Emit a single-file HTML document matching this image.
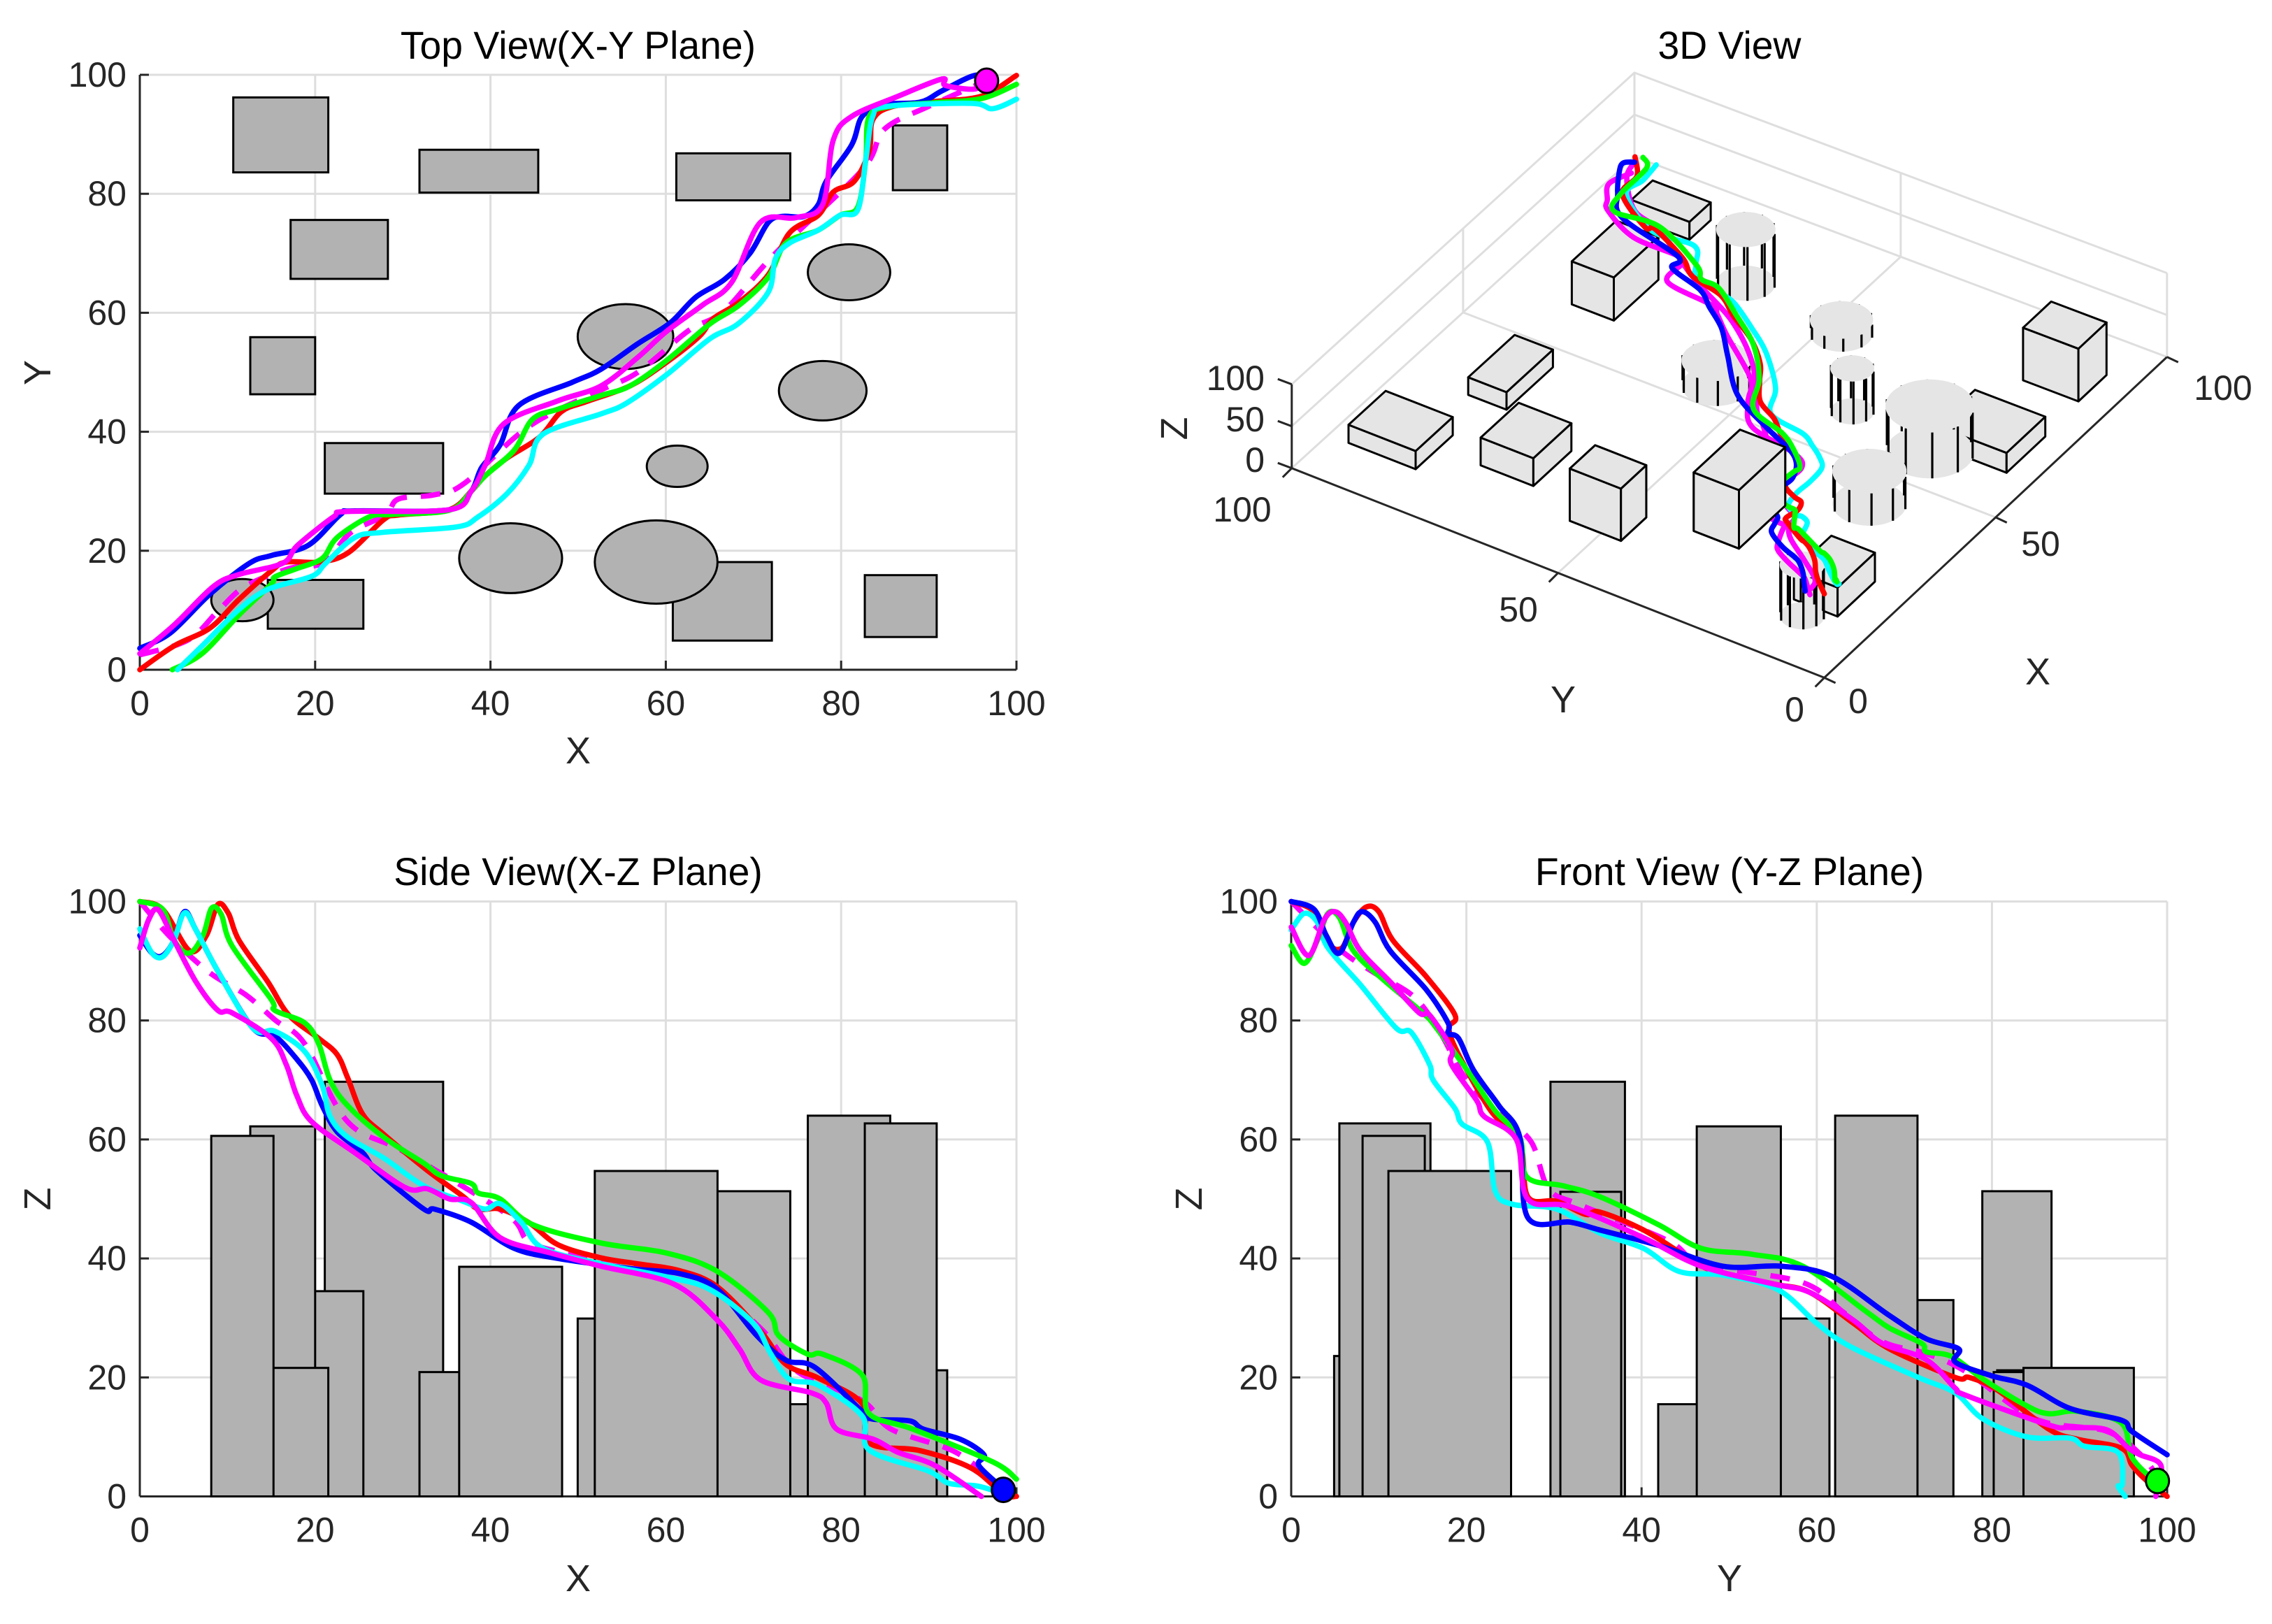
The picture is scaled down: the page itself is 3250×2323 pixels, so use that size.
<!DOCTYPE html>
<html lang="en">
<head>
<meta charset="utf-8">
<title>Trajectory planning views</title>
<style>
html,body{margin:0;padding:0;background:#fff;}
svg{display:block;}
text{font-family:"Liberation Sans",Arial,sans-serif;}
.title{font-size:55.3px;fill:#000;text-anchor:middle;}
.axis-label{font-size:54px;fill:#262626;text-anchor:middle;}
.tick{font-size:50px;fill:#262626;}
</style>
</head>
<body>
<svg id="figure" xmlns="http://www.w3.org/2000/svg" width="3250" height="2323" viewBox="0 0 3250 2323">
  <rect x="0" y="0" width="3250" height="2323" fill="#ffffff"/>
  <g id="top-panel"></g>
  <g id="iso-panel"></g>
  <g id="side-panel"></g>
  <g id="front-panel"></g>
  <text class="title" x="827" y="84">Top View(X-Y Plane)</text>
  <text class="axis-label" x="827" y="1092">X</text>
  <text class="axis-label" transform="translate(72,533) rotate(-90)">Y</text>
  <text class="title" x="2474" y="84">3D View</text>
  <text class="axis-label" x="2915" y="979">X</text>
  <text class="axis-label" x="2236" y="1019">Y</text>
  <text class="axis-label" transform="translate(1698,613) rotate(-90)">Z</text>
  <text class="title" x="827" y="1266">Side View(X-Z Plane)</text>
  <text class="axis-label" x="827" y="2276">X</text>
  <text class="axis-label" transform="translate(72,1715) rotate(-90)">Z</text>
  <text class="title" x="2474" y="1266">Front View (Y-Z Plane)</text>
  <text class="axis-label" x="2474" y="2276">Y</text>
  <text class="axis-label" transform="translate(1719,1715) rotate(-90)">Z</text>
</svg>
<script>
// ---------- tick labels ----------
const planeTicks = [0, 20, 40, 60, 80, 100];
const isoTicks = [0, 50, 100];

// ---------- obstacles (data units) ----------
const boxIds  = ['R1','R2','R3','R4','R5','R6','R7','R8','R9','R10'];
const boxXMin = [10.66,31.9,61.2,85.9,17.2,12.6,21.1,14.6,60.8,82.7];
const boxXMax = [21.5,45.45,74.2,92.1,28.3,20,34.6,25.5,72.1,90.9];
const boxYMin = [83.6,80.2,78.9,80.6,65.7,46.3,29.6,6.9,4.9,5.5];
const boxYMax = [96.2,87.4,86.8,91.5,75.6,55.9,38.1,15.1,18.1,15.9];
const boxHeight = [21.6,20.9,51.3,21.2,33,62.2,69.7,34.5,23.6,62.7];
const cylIds = ['C1','C2','C3','C4','C5','C6','C7'];
const cylX = [11.7,42.3,58.9,55.4,61.3,77.9,80.9];
const cylY = [11.7,18.75,18.1,56,34.2,46.9,66.8];
const cylR = [3.55,5.87,7,5.45,3.47,5,4.7];
const cylHeight = [60.6,38.6,54.7,29.9,51.2,15.5,64];
const sideOrder  = ['R5','R7','R8','R6','R1','C1','R2','C2','C4','R9','C5','C6','R3','C3','R4','C7','R10'];
const frontOrder = ['R9','R8','R10','C1','C2','C3','R7','C5','C6','C4','R6','R5','C7','R3','R4','R2','R1'];
const occludingBoxes = ['R6','R7'];
const facetAngles = [0,36,72,108,144,180,216,252,288,324];

// ---------- top view series ----------
const topRedX = [0,3.9,8,11.3,15,16.7,20.4,23.7,27.8,29.5,35.3,37.8,39.4,41.9,45.6,48.1,51,55.9,60.1,63.8,65.4,68.3,71.7,74.1,77.4,79.1,81.5,83.2,83.6,85.7,90.6,96,100];
const topRedY = [0,4,7,11.8,16.6,18.1,18.1,19.6,25.2,26,26.9,30,32.6,35.6,39.1,43.4,45.1,47.7,51.7,56,59,61.7,66.4,73.4,76.4,80.3,82.1,87.2,92.4,94.6,95.5,96.4,99.9];
const topBlueX = [0,3.5,8,12.5,15,19.2,22.9,24.5,35.3,37.8,39,41.1,43.2,49.3,52.6,56.8,60.5,63.4,66.7,69.6,71.7,73.3,75.8,77.4,78.3,81.2,82.4,84.9,89,91.5,95.2,96.6];
const topBlueY = [3.6,6.2,12.7,17.9,19.2,20.9,26.1,26.7,26.9,30,34,37.8,44.4,48.3,50.5,54.8,58.3,62.6,65.6,70,75.2,76.2,76.2,78.2,82.1,88.2,93,95,95.4,97.3,99.9,99];
const topGreenX = [3.7,7.1,11.3,15,15.4,17.9,20.8,22.5,26.2,28.7,35.3,37.8,39.4,42.7,44.8,47.7,52.6,55.9,60.1,65,68.3,71.7,73.7,77.4,79.9,81.9,82.8,83.2,85.7,90.6,96,100];
const topGreenY = [0,2.7,9.2,14.4,15.6,17,18.7,22.2,25.7,26.1,26.8,30,32.6,36.9,42.1,43.8,46.1,47.7,52,58.1,61.2,66,71.7,73.9,76.4,77.8,85.6,93,94.7,95.3,96,98.4];
const topCyanX = [4.3,7.1,11.3,14.6,19.6,21.2,24.5,27.8,36.1,38.6,41.9,44.4,46,52.6,55.5,60.1,65,68.3,71.7,72.5,74.1,77.4,79.9,81.9,82.8,83.6,85.3,94.8,97.3,100];
const topCyanY = [0,4,10.1,13.5,15.7,17.9,22.2,23.1,24,25.7,29.6,34.4,39.6,43,44.8,49.6,55.6,58.2,63.5,69.1,71.7,73.9,76.4,77.3,85.6,93,94.7,95.2,94.3,95.9];
const topMagentaX = [0,3.9,8.4,11.3,16.3,18,22.1,23.7,35.3,37.8,39.4,41.5,47.7,52.6,56.8,60.1,64.2,67.5,70.8,74.9,77.9,79.1,81.2,86.5,91.5,91.9,95.2,96.6];
const topMagentaY = [2.7,7.5,14,16,17.9,20.9,25.7,26.6,26.9,30,34.4,41.3,45.2,47.7,52.5,56.9,61.3,65.1,75.2,76,78.2,89,93,96.4,99.3,98.2,97.6,99];
const topDashX = [0,5.5,9,12,17,21,24,28,29.5,33.6,37,44.4,52.6,56.8,62.6,66.7,72.5,82.4,84.9,90,96.6];
const topDashY = [2.5,5,10,14,17,18,23,26,28.7,29.4,31.3,40.9,47,50,57,60.4,70,84,90.8,94.7,99];

// ---------- side view series ----------
const sideRedX = [0,2.6,5.7,7.6,8.9,10.1,11.3,14.6,17,20.4,22.5,23.7,25.4,27.8,32.8,36.9,38.6,41.1,44.4,47.7,52.6,56.8,61.7,65.9,70.8,73.7,77.4,82.4,83.2,89,94.8,98.5,100];
const sideRedZ = [100,98.7,91.7,94.3,99.5,98,93.5,86.5,80.9,77,74.3,70.4,64.3,60.9,54.8,50.4,48.3,48.3,46,42.3,40.1,39.1,37.9,35.2,27.8,22.2,19.9,15.6,9,7.7,4.8,0.4,0];
const sideBlueX = [0,1.4,2.6,3.9,5.1,6.4,8.9,12.9,15.4,17.9,19.6,20.8,22.5,25.4,27,32.4,33.6,37.8,42.7,47.7,56,61.7,65.9,70.4,73.7,77,82.4,83.6,87.8,89.4,93.6,96.3,95.7,98.5];
const sideBlueZ = [94.3,91.3,90.9,93.5,98.3,95.2,88.3,78.7,77.4,73.5,70,65.7,61.3,57.8,54.8,48.3,48.3,46.1,41.7,40,38.3,37.4,34.8,27,22.9,21.7,14.3,13,12.7,11.3,9.6,7,5.2,1.3];
const sideGreenX = [0,2.6,3.9,5.6,7.2,8.2,9.3,10.5,15,15.4,18.8,20.4,21.7,23.7,27.8,32.4,34.4,37.8,38.6,41.1,44.8,52.6,60.1,65.9,71.7,72.9,76.2,77.9,82.4,83.2,88.2,97.3,100];
const sideGreenZ = [100,98.7,93.5,91.3,94.3,98.9,97.8,92.6,83.5,81.7,79.6,76.1,70,65.7,60.4,56,53.9,52.6,51,50,45.7,42.6,40.9,37.8,30.9,27,23.9,23.9,20.4,13.9,11.3,5.8,2.9];
const sideCyanX = [0,1.4,2.6,3.9,5.1,6.4,8.9,12.9,15.4,18.8,20.8,21.7,23.7,27.8,32.4,36.9,39.4,41.1,43.5,46,52.6,60.1,65,70,72,74.1,77.4,82.4,83.2,89.9,92.3,95.7,99.4];
const sideCyanZ = [95.4,91.3,90.7,93.5,98.1,95.2,88.3,78.7,78.2,74.8,69.1,63.9,60.4,56.9,52.2,49.6,48.3,49.2,46.1,41.7,39.1,36.9,34.8,29.1,23.9,19.7,18.7,13.5,7.8,4.3,2.2,1.7,0];
const sideMagentaX = [0,1,2.1,3.9,6.4,8.9,10.5,15,16.7,17.9,19.6,24.5,30.3,32.8,35.3,37.8,41.1,46.9,52.6,60.9,65.9,68.4,70.8,76.6,78.3,79.5,83.7,86.5,90.7,96];
const sideMagentaZ = [92.2,96.9,98.6,93.5,86.5,81.7,81.3,77,72.6,67.4,63,57.8,51.9,51.7,50,49.4,43.5,40.9,38.7,35.7,29.6,24.8,19.6,17.4,15.7,11.3,9.6,7.4,5.2,0];
const sideDashX = [0,3.5,8,12.1,15.5,18.8,23.7,30.3,41.9,45.2,56,64.2,70.8,75,82.4,85.7,93.1,98.5];
const sideDashZ = [100,94,88,84.3,80,76.1,63,57.8,47.4,42.2,39.1,36.1,28.3,21,16.1,11.3,7.4,1.3];

// ---------- front view series ----------
const frontRedY = [0,2.6,4.2,5.8,7.1,8.6,10,11.6,15.4,18.7,18,19.1,22.8,26.1,27,30.3,33.6,35.2,40.2,45.9,48.5,55.1,59.2,64.2,68.3,75.8,77.4,80.7,86.5,89.8,94.8,96,97.7,100];
const frontRedZ = [100,98.3,93,92.2,96.5,99.1,98.3,93.5,87.4,80.9,78.7,74.3,64.8,59.6,50.4,49.6,47.4,47.8,44.8,39.6,37.8,35.7,34.3,29.1,24.8,20,20,17.8,11.3,9.6,8.1,5.2,2.6,0];
const frontBlueY = [0,2.6,4,5.5,7.1,8.1,9.6,11.3,15.4,17.9,17.9,19.1,20.8,23.7,26.1,27,31.9,35.2,41.9,49.3,55.9,61.7,68.3,72.5,76.2,75.8,79.9,84,88.9,94.8,96,100];
const frontBlueZ = [100,98.7,94.3,91.3,96.5,98.3,96.5,91.7,85.2,79.6,77.8,77,71.7,65.7,60.4,46.9,46.1,44.8,42.2,38.7,38.7,37,30.4,26.5,24.8,22.6,20.3,18.7,14.8,12.8,10.9,7];
const frontGreenY = [0,1.5,3,4.2,5.5,7.1,10.4,15,16.6,20.4,23.3,26.1,26.9,31.1,35.2,41.9,46.8,52.6,58.4,65.8,68.3,72,72.5,75.4,79.1,84,86.5,89.8,94.8,96,98.9];
const frontGreenZ = [92.6,89.6,93.5,98,97.3,91.7,87,81.3,78.7,71,64.8,60.3,53.7,52.2,50.4,45.7,41.7,40.7,38.7,30.9,28.3,25.7,24.3,23.5,19.6,15.2,13.9,14.3,12.3,6.5,2.2];
const frontCyanY = [0,1.5,3,4.2,7.9,12,13.7,15.8,16.2,18.7,19.5,22.4,23.3,25.3,30.3,35.2,40.2,44.3,49.3,55.5,60,63.8,71.6,75.8,79,84,88.9,90.6,94.4,94.9,94.4,95.2];
const frontCyanZ = [95.2,98,96.5,92.2,86,78.7,78,72.6,70,65.2,62.6,59.6,51.3,49.1,48.3,44.3,41.7,37.8,37.2,34.8,29.1,25.2,20,17.4,13,10,9.8,8.4,7.4,2.2,1.7,0];
const frontMagentaY = [0,2,3.8,5,6.2,7.9,11.3,14.6,15.8,18.3,18.3,21.2,22,25.7,27,31.9,40.2,46.8,55.1,59.2,64.2,67.5,72.5,75.8,77,86.5,88.9,93.1,95.6,96.9,99.3,98.7];
const frontMagentaZ = [95.7,90.9,97,98.3,96.5,91.7,86.5,81.3,80.9,75.2,72.6,66.5,63.9,60,50,48.7,43.5,38.7,35.7,34.3,29.6,25.7,23,18.2,17,12,11.6,11.2,8.1,7,5.2,0];
const frontDashY = [0,5.5,9.5,14,17,20,24,27.4,29.4,33,43,47,58.3,63,67.5,72.5,77,85,93,97,99];
const frontDashZ = [100,92,88,84,78,70,64,59.6,51.7,49,43,39,36,31,26,24,21,13,11,7,3];

// ---------- 3D view series ----------
const isoRedX = [0,2.6,5.7,7.6,8.9,10.1,11.3,15,17,20.4,23.7,25.4,27.8,32.8,36.9,41.1,44.4,47.7,52.6,56.8,61.7,65.9,70.8,73.7,77.4,82.4,83.2,89,94.8,100];
const isoRedY = [0,2.8,5.3,6.7,8.5,10.2,11.8,16.6,18.1,18.1,19.6,22,25.2,26.6,29,34.6,38,42.7,46,48.6,53.5,59.5,65,72.2,76.4,84.8,87.2,95.2,96.2,99.9];
const isoRedZ = [100,98.7,91.7,94.3,99.5,98,93.5,86.5,80.9,77,70.4,64.3,60.9,54.8,50.4,48.3,46,42.3,40.1,39.1,37.9,35.2,27.8,22.2,19.9,15.6,9,7.7,4.8,0];
const isoBlueX = [0,1.4,2.6,3.9,5.1,6.4,8.9,12.9,15.4,17.9,19.6,20.8,22.5,25.4,27,32.4,37.8,42.7,47.7,56,61.7,65.9,70.4,73.7,77,82.4,87.8,93.6,96.3,98.5];
const isoBlueY = [3.6,4.6,5.5,6.5,8,9.7,13.6,18.2,19.2,20.3,23,25,26.3,26.8,26.8,26.8,30,38.5,47,54.2,59,64,68.6,76,77,91,95.3,98.7,99.7,99];
const isoBlueZ = [94.3,91.3,90.9,93.5,98.3,95.2,88.3,78.7,77.4,73.5,70,65.7,61.3,57.8,54.8,48.3,46.1,41.7,40,38.3,37.4,34.8,27,22.9,21.7,14.3,12.7,9.6,7,1.3];
const isoGreenX = [3.7,4.5,5.6,7.2,8.2,9.3,10.5,15,15.4,18.8,20.4,21.7,23.7,27.8,32.4,34.4,37.8,41.1,44.8,52.6,60.1,65.9,71.7,72.9,76.2,82.4,83.2,88.2,97.3,100];
const isoGreenY = [0,0.7,1.6,2.8,4.2,6,7.7,14.4,15.6,17.6,18.7,21,24,26.2,26.6,26.7,30,34.3,42.1,46.1,52,59,66,70,73,84,93,95,96,98.4];
const isoGreenZ = [100,98,91.3,94.3,98.9,97.8,92.6,83.5,81.7,79.6,76.1,70,65.7,60.4,56,53.9,52.6,50,45.7,42.6,40.9,37.8,30.9,27,23.9,20.4,13.9,11.3,5.8,2.9];
const isoCyanX = [4.3,4.8,5.5,6.6,7.8,9,10.6,14.6,15.4,18.8,20.8,21.7,23.7,27.8,32.4,36.9,39.4,41.1,43.5,46,52.6,60.1,65,70,72,74.1,77.4,82.4,83.2,89.9,95,100];
const isoCyanY = [0,0.7,1.7,3.3,5,6.9,9,13.5,14,15.3,17.5,19.2,22,23.1,23.5,24.2,26.3,28.7,32,39.6,43,49.6,55.6,62,66,71.7,73.9,77.5,86,95,95.2,95.9];
const isoCyanZ = [95.4,91.3,90.7,93.5,98.1,95.2,88.3,78.7,78.2,74.8,69.1,63.9,60.4,56.9,52.2,49.6,48.3,49.2,46.1,41.7,39.1,36.9,34.8,29.1,23.9,19.7,18.7,13.5,7.8,4.3,1.8,0];
const isoMagentaX = [0,1,2.1,3.9,6.4,8.9,10.5,15,16.7,17.9,19.6,24.5,30.3,35.3,37.8,41.1,46.9,52.6,60.9,65.9,68.4,70.8,76.6,78.3,79.5,83.7,86.5,90.7,96];
const isoMagentaY = [2.7,3.9,5.1,7.5,11,14.4,15.5,17.4,17.9,20.9,23.5,26.7,26.9,26.9,30,40,44.5,47.7,57.5,62.5,65.2,75,76,78,87,94.5,96.4,98.8,98];
const isoMagentaZ = [92.2,96.9,98.6,93.5,86.5,81.7,81.3,77,72.6,67.4,63,57.8,51.9,50,49.4,43.5,40.9,38.7,35.7,29.6,24.8,19.6,17.4,15.7,11.3,9.6,7.4,5.2,0];
const isoDashX = [0,3.5,8,12.1,15.5,18.8,23.7,30.3,41.9,45.2,56,64.2,70.8,75,82.4,85.7,93.1,98.5];
const isoDashY = [2.5,4,9,14.1,16.6,17.7,23,28.7,38.5,41.7,49.5,58.5,68.5,74,84,90.8,97,99];
const isoDashZ = [100,94,88,84.3,80,76.1,63,57.8,47.4,42.2,39.1,36.1,28.3,21,16.1,11.3,7.4,1.3];

// ---------- goal markers ----------
const topMarker = [96.6, 99];
const sideMarker = [98.5, 1.1];
const frontMarker = [98.9, 2.6];

// ---------- helpers ----------
const NS = 'http://www.w3.org/2000/svg';
function make(parent, tag, attrs, name) {
  const el = document.createElementNS(NS, tag);
  for (const k in attrs) el.setAttribute(k, attrs[k]);
  
  
  parent.appendChild(el);
  return el;
}
function scale(p0, p1) { return v => p0 + (p1 - p0) * v / 100; }

// Smooth curve through screen points (Catmull-Rom rendered as cubic Beziers).
function smoothD(pts) {
  let d = 'M' + pts[0][0].toFixed(1) + ' ' + pts[0][1].toFixed(1);
  for (let i = 0; i < pts.length - 1; i++) {
    const p0 = pts[Math.max(i - 1, 0)], p1 = pts[i], p2 = pts[i + 1], p3 = pts[Math.min(i + 2, pts.length - 1)];
    const c1x = p1[0] + (p2[0] - p0[0]) / 6, c1y = p1[1] + (p2[1] - p0[1]) / 6;
    const c2x = p2[0] - (p3[0] - p1[0]) / 6, c2y = p2[1] - (p3[1] - p1[1]) / 6;
    d += 'C' + c1x.toFixed(1) + ' ' + c1y.toFixed(1) + ' ' + c2x.toFixed(1) + ' ' + c2y.toFixed(1) + ' ' + p2[0].toFixed(1) + ' ' + p2[1].toFixed(1);
  }
  return d;
}

function obstacle(id) {
  let i = boxIds.indexOf(id);
  if (i >= 0) return {id, kind:'box', x0:boxXMin[i], x1:boxXMax[i], y0:boxYMin[i], y1:boxYMax[i], h:boxHeight[i]};
  i = cylIds.indexOf(id);
  return {id, kind:'cyl', cx:cylX[i], cy:cylY[i], r:cylR[i], x0:cylX[i]-cylR[i], x1:cylX[i]+cylR[i], y0:cylY[i]-cylR[i], y1:cylY[i]+cylR[i], h:cylHeight[i]};
}

const GRID = '#dedede', AXIS = '#262626', FILL = '#b2b2b2';
const LINE_W = 7.6;

function axes2d(g, box, prefix) {
  const sx = scale(box.left, box.right), sy = scale(box.bottom, box.top);
  planeTicks.forEach(t => {
    if (t > 0) {
      make(g, 'line', {x1:sx(t), x2:sx(t), y1:box.top, y2:box.bottom, stroke:GRID, 'stroke-width':3}, prefix + '-vertical-gridline');
      make(g, 'line', {x1:box.left, x2:box.right, y1:sy(t), y2:sy(t), stroke:GRID, 'stroke-width':3}, prefix + '-horizontal-gridline');
    }
  });
  make(g, 'line', {x1:box.left, x2:box.right, y1:box.bottom, y2:box.bottom, stroke:AXIS, 'stroke-width':3}, prefix + '-x-axis-line');
  make(g, 'line', {x1:box.left, x2:box.left, y1:box.top, y2:box.bottom, stroke:AXIS, 'stroke-width':3}, prefix + '-y-axis-line');
  planeTicks.forEach(t => {
    make(g, 'line', {x1:sx(t), x2:sx(t), y1:box.bottom, y2:box.bottom-13, stroke:AXIS, 'stroke-width':3}, prefix + '-x-tick');
    make(g, 'line', {x1:box.left, x2:box.left+13, y1:sy(t), y2:sy(t), stroke:AXIS, 'stroke-width':3}, prefix + '-y-tick');
    const xl = make(g, 'text', {class:'tick', x:sx(t), y:box.bottom+65, 'text-anchor':'middle'}, prefix + '-x-tick-label');
    xl.textContent = t;
    const yl = make(g, 'text', {class:'tick', x:box.left-19, y:sy(t)+17, 'text-anchor':'end'}, prefix + '-y-tick-label');
    yl.textContent = t;
  });
  return {sx, sy};
}

function drawPath(g, xs, ys, sx, sy, color, name, dashed) {
  const n = Math.min(xs.length, ys.length);
  const pts = [];
  for (let i = 0; i < n; i++) pts.push([sx(xs[i]), sy(ys[i])]);
  const attrs = {d:smoothD(pts), fill:'none', stroke:color, 'stroke-width':LINE_W, 'stroke-linejoin':'round', 'stroke-linecap':dashed ? 'butt' : 'round'};
  if (dashed) attrs['stroke-dasharray'] = '28 20';
  make(g, 'path', attrs, name);
}

function marker(g, cx, cy, fill, name) {
  make(g, 'ellipse', {cx, cy, rx:16.5, ry:17.5, fill, stroke:'#000', 'stroke-width':3}, name);
}

// ---------- top view ----------
(function () {
  const box = {left:200, right:1454, top:107, bottom:958};
  const g = document.getElementById('top-panel');
  const {sx, sy} = axes2d(g, box, 'top');
  boxIds.forEach(id => {
    const o = obstacle(id);
    make(g, 'rect', {x:sx(o.x0), y:sy(o.y1), width:sx(o.x1)-sx(o.x0), height:sy(o.y0)-sy(o.y1), fill:FILL, stroke:'#000', 'stroke-width':3}, 'top-building-' + id);
  });
  cylIds.forEach(id => {
    const o = obstacle(id);
    make(g, 'ellipse', {cx:sx(o.cx), cy:sy(o.cy), rx:(sx(o.r)-sx(0)), ry:(sy(0)-sy(o.r)), fill:FILL, stroke:'#000', 'stroke-width':3}, 'top-cylinder-' + id);
  });
  drawPath(g, topDashX, topDashY, sx, sy, '#ff00ff', 'top-reference-path-dashed', true);
  drawPath(g, topRedX, topRedY, sx, sy, '#ff0000', 'top-path-red');
  drawPath(g, topBlueX, topBlueY, sx, sy, '#0000ff', 'top-path-blue');
  drawPath(g, topGreenX, topGreenY, sx, sy, '#00ff00', 'top-path-green');
  drawPath(g, topCyanX, topCyanY, sx, sy, '#00ffff', 'top-path-cyan');
  drawPath(g, topMagentaX, topMagentaY, sx, sy, '#ff00ff', 'top-path-magenta');
  marker(g, sx(topMarker[0]), sy(topMarker[1]), '#ff00ff', 'top-goal-marker');
})();

// ---------- side and front views ----------
function elevation(gid, box, prefix, order, hKey0, hKey1) {
  const g = document.getElementById(gid);
  const scales = axes2d(g, box, prefix);
  order.forEach(id => {
    const o = obstacle(id);
    make(g, 'rect', {x:scales.sx(o[hKey0]), y:scales.sy(o.h), width:scales.sx(o[hKey1])-scales.sx(o[hKey0]), height:scales.sy(0)-scales.sy(o.h), fill:FILL, stroke:'#000', 'stroke-width':3}, prefix + '-obstacle-' + id);
  });
  return {g, sx:scales.sx, sy:scales.sy};
}
(function () {
  const {g, sx, sy} = elevation('side-panel', {left:200, right:1454, top:1289.5, bottom:2140.5}, 'side', sideOrder, 'x0', 'x1');
  drawPath(g, sideDashX, sideDashZ, sx, sy, '#ff00ff', 'side-reference-path-dashed', true);
  drawPath(g, sideRedX, sideRedZ, sx, sy, '#ff0000', 'side-path-red');
  drawPath(g, sideBlueX, sideBlueZ, sx, sy, '#0000ff', 'side-path-blue');
  drawPath(g, sideGreenX, sideGreenZ, sx, sy, '#00ff00', 'side-path-green');
  drawPath(g, sideCyanX, sideCyanZ, sx, sy, '#00ffff', 'side-path-cyan');
  drawPath(g, sideMagentaX, sideMagentaZ, sx, sy, '#ff00ff', 'side-path-magenta');
  marker(g, sx(sideMarker[0]), sy(sideMarker[1]), '#0000ff', 'side-goal-marker');
})();
(function () {
  const {g, sx, sy} = elevation('front-panel', {left:1847, right:3100, top:1289.5, bottom:2140.5}, 'front', frontOrder, 'y0', 'y1');
  drawPath(g, frontDashY, frontDashZ, sx, sy, '#ff00ff', 'front-reference-path-dashed', true);
  drawPath(g, frontRedY, frontRedZ, sx, sy, '#ff0000', 'front-path-red');
  drawPath(g, frontCyanY, frontCyanZ, sx, sy, '#00ffff', 'front-path-cyan');
  drawPath(g, frontGreenY, frontGreenZ, sx, sy, '#00ff00', 'front-path-green');
  drawPath(g, frontBlueY, frontBlueZ, sx, sy, '#0000ff', 'front-path-blue');
  drawPath(g, frontMagentaY, frontMagentaZ, sx, sy, '#ff00ff', 'front-path-magenta');
  marker(g, sx(frontMarker[0]), sy(frontMarker[1]), '#00ff00', 'front-goal-marker');
})();

// ---------- 3D view ----------
(function () {
  const g = document.getElementById('iso-panel');
  const P00 = [2609.6, 969.4], P10 = [3099.8, 510.6], P01 = [1847.8, 669.7], P11 = [2338, 224];
  const Z_PX = 1.2;
  function project(x, y, z) {
    const u = x / 100, v = y / 100;
    const a = (1-u)*(1-v), b = u*(1-v), c = (1-u)*v, d = u*v;
    return [a*P00[0]+b*P10[0]+c*P01[0]+d*P11[0], a*P00[1]+b*P10[1]+c*P01[1]+d*P11[1] - z*Z_PX];
  }
  function seg(a, b, stroke, w, name) {
    make(g, 'line', {x1:a[0], y1:a[1], x2:b[0], y2:b[1], stroke, 'stroke-width':w}, name);
  }
  // walls and floor grid
  isoTicks.forEach(z => {
    const pts = [project(0,100,z), project(100,100,z), project(100,0,z)].map(p => p[0].toFixed(1)+','+p[1].toFixed(1)).join(' ');
    make(g, 'polyline', {points:pts, fill:'none', stroke:GRID, 'stroke-width':3}, '3d-wall-gridline');
  });
  seg(project(100,100,0), project(100,100,100), GRID, 3, '3d-corner-gridline');
  seg(project(50,100,0), project(50,100,100), GRID, 3, '3d-wall-gridline-x');
  seg(project(100,50,0), project(100,50,100), GRID, 3, '3d-wall-gridline-y');
  seg(project(100,0,0), project(100,0,100), GRID, 3, '3d-wall-edge');
  seg(project(50,0,0), project(50,100,0), GRID, 3, '3d-floor-gridline-x');
  seg(project(0,50,0), project(100,50,0), GRID, 3, '3d-floor-gridline-y');
  // axes
  seg(project(0,100,0), project(0,0,0), AXIS, 3, '3d-y-axis-line');
  seg(project(0,0,0), project(100,0,0), AXIS, 3, '3d-x-axis-line');
  seg(project(0,100,0), project(0,100,100), AXIS, 3, '3d-z-axis-line');
  isoTicks.forEach(t => {
    let p = project(t,0,0);
    seg(p, [p[0]+16, p[1]+7.5], AXIS, 3, '3d-x-tick');
    p = project(0,t,0);
    seg(p, [p[0]-13, p[1]+13], AXIS, 3, '3d-y-tick');
    p = project(0,100,t);
    seg(p, [p[0]-20, p[1]-7.5], AXIS, 3, '3d-z-tick');
  });
  const xLabelPos = {0:[2658,1020], 50:[2919,795], 100:[3180,572]};
  const yLabelPos = {0:[2567,1032], 50:[2172,889], 100:[1777,746]};
  const zLabelPos = {0:[1809,675], 50:[1809,617], 100:[1809,558]};
  isoTicks.forEach(t => {
    make(g, 'text', {class:'tick', x:xLabelPos[t][0], y:xLabelPos[t][1], 'text-anchor':'middle'}, '3d-x-tick-label').textContent = t;
    make(g, 'text', {class:'tick', x:yLabelPos[t][0], y:yLabelPos[t][1], 'text-anchor':'middle'}, '3d-y-tick-label').textContent = t;
    make(g, 'text', {class:'tick', x:zLabelPos[t][0], y:zLabelPos[t][1], 'text-anchor':'end'}, '3d-z-tick-label').textContent = t;
  });
  const FACE = '#e5e5e5';
  function poly(pts, attrs, name) {
    const a = Object.assign({points:pts.map(p => p[0].toFixed(1)+','+p[1].toFixed(1)).join(' ')}, attrs);
    return make(g, 'polygon', a, name);
  }
  function drawBox(o) {
    const face = {fill:FACE, stroke:'#000', 'stroke-width':3, 'stroke-linejoin':'round'};
    poly([project(o.x0,o.y0,0), project(o.x0,o.y1,0), project(o.x0,o.y1,o.h), project(o.x0,o.y0,o.h)], face, '3d-building-left-face-' + o.id);
    poly([project(o.x0,o.y0,0), project(o.x1,o.y0,0), project(o.x1,o.y0,o.h), project(o.x0,o.y0,o.h)], face, '3d-building-right-face-' + o.id);
    poly([project(o.x0,o.y0,o.h), project(o.x1,o.y0,o.h), project(o.x1,o.y1,o.h), project(o.x0,o.y1,o.h)], face, '3d-building-top-face-' + o.id);
  }
  function ring(o, z) {
    const pts = [];
    for (let a = 0; a < 360; a += 7.5) {
      const rad = a * Math.PI / 180;
      pts.push(project(o.cx + o.r*Math.cos(rad), o.cy + o.r*Math.sin(rad), z));
    }
    return pts;
  }
  function drawCylinder(o) {
    poly(ring(o, 0), {fill:FACE}, '3d-cylinder-base-' + o.id);
    facetAngles.forEach(a => {
      const rad = a * Math.PI / 180;
      const px = o.cx + o.r*Math.cos(rad), py = o.cy + o.r*Math.sin(rad);
      seg(project(px,py,o.h), project(px,py,0), '#000', 3.2, '3d-cylinder-facet-edge');
    });
    poly(ring(o, o.h), {fill:FACE}, '3d-cylinder-top-' + o.id);
  }
  const all = boxIds.concat(cylIds).map(obstacle);
  all.sort((a, b) => (b.x0+b.x1+b.y0+b.y1) - (a.x0+a.x1+a.y0+a.y1));
  all.forEach(o => { if (o.kind === 'box') drawBox(o); else drawCylinder(o); });

  function path3d(xs, ys, zs, color, name) {
    const n = Math.min(xs.length, ys.length, zs.length);
    const pts = [];
    for (let i = 0; i < n; i++) pts.push(project(xs[i], ys[i], zs[i]));
    make(g, 'path', {d:smoothD(pts), fill:'none', stroke:color, 'stroke-width':LINE_W, 'stroke-linejoin':'round', 'stroke-linecap':'round'}, name);
  }
  path3d(isoDashX, isoDashY, isoDashZ, '#ff00ff', '3d-reference-path');
  path3d(isoCyanX, isoCyanY, isoCyanZ, '#00ffff', '3d-path-cyan');
  path3d(isoMagentaX, isoMagentaY, isoMagentaZ, '#ff00ff', '3d-path-magenta');
  path3d(isoRedX, isoRedY, isoRedZ, '#ff0000', '3d-path-red');
  path3d(isoBlueX, isoBlueY, isoBlueZ, '#0000ff', '3d-path-blue');
  path3d(isoGreenX, isoGreenY, isoGreenZ, '#00ff00', '3d-path-green');
  occludingBoxes.forEach(id => drawBox(obstacle(id)));
})();
</script>
</body>
</html>
